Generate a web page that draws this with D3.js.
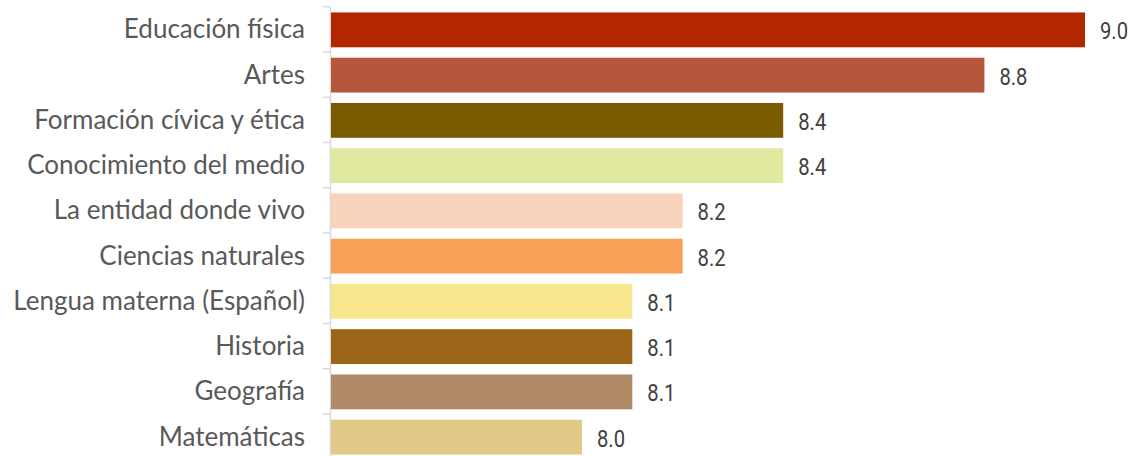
<!DOCTYPE html>
<html><head><meta charset="utf-8">
<script src="https://cdn.jsdelivr.net/npm/d3@7"></script>
<style>body{margin:0;background:#fff;} svg{display:block;}</style>
</head><body>
<script>
const categories = ["Educación física","Artes","Formación cívica y ética","Conocimiento del medio","La entidad donde vivo","Ciencias naturales","Lengua materna (Español)","Historia","Geografía","Matemáticas"];
const values = [9.0, 8.8, 8.4, 8.4, 8.2, 8.2, 8.1, 8.1, 8.1, 8.0];
const colors = ["#B22700","#B6573B","#7A5B00","#E1E9A1","#FAD3BD","#F89F58","#F8E78D","#9B6416","#B08967","#E3C988"];

const W = 1134, H = 456;
const svg = d3.select("body").append("svg").attr("width", W).attr("height", H);
const x = d3.scaleLinear().domain([7.5, 9.0]).range([330.5, 1085]);
const y = d3.scaleBand().domain(categories).range([6.75, 459.25]).paddingInner(0.23).paddingOuter(0.115);

const ax = svg.append("g");
ax.append("line").attr("x1",330.5).attr("x2",330.5).attr("y1",6.75).attr("y2",459.25)
  .attr("stroke","#d9d9d9").attr("stroke-width",1.5);
const step = y.step();
d3.range(categories.length+1).forEach(i=>{
  const yy = 6.75 + i*step;
  ax.append("line").attr("x1",323).attr("x2",330.5).attr("y1",yy).attr("y2",yy)
    .attr("stroke","#d9d9d9").attr("stroke-width",1.5);
});

svg.selectAll("rect.bar").data(categories).enter().append("rect")
  .attr("x", x(7.5)+0.5).attr("y", d=>y(d)+0.5)
  .attr("width", (d,i)=>x(values[i])-x(7.5)-0.5).attr("height", y.bandwidth())
  .attr("fill", (d,i)=>colors[i]);

svg.selectAll("text.cat").data(categories).enter().append("text")
  .attr("x", 305).attr("y", d=>y(d)+y.bandwidth()/2).attr("dy","0.35em")
  .attr("text-anchor","end").attr("fill","#595959")
  .style("font-family","Lato, 'Open Sans', sans-serif").style("font-size","26px")
  .text(d=>d);

svg.selectAll("text.val").data(categories).enter().append("text")
  .attr("x", (d,i)=>x(values[i])+15).attr("y", d=>y(d)+y.bandwidth()/2+2).attr("dy","0.35em")
  .attr("fill","#404040")
  .style("font-family","Roboto, sans-serif").style("font-size","23px")
  .attr("transform",(d,i)=>{const xx=x(values[i])+15; return `translate(${xx},0) scale(0.88,1) translate(${-xx},0)`;})
  .text((d,i)=>values[i].toFixed(1));
</script>
</body></html>
